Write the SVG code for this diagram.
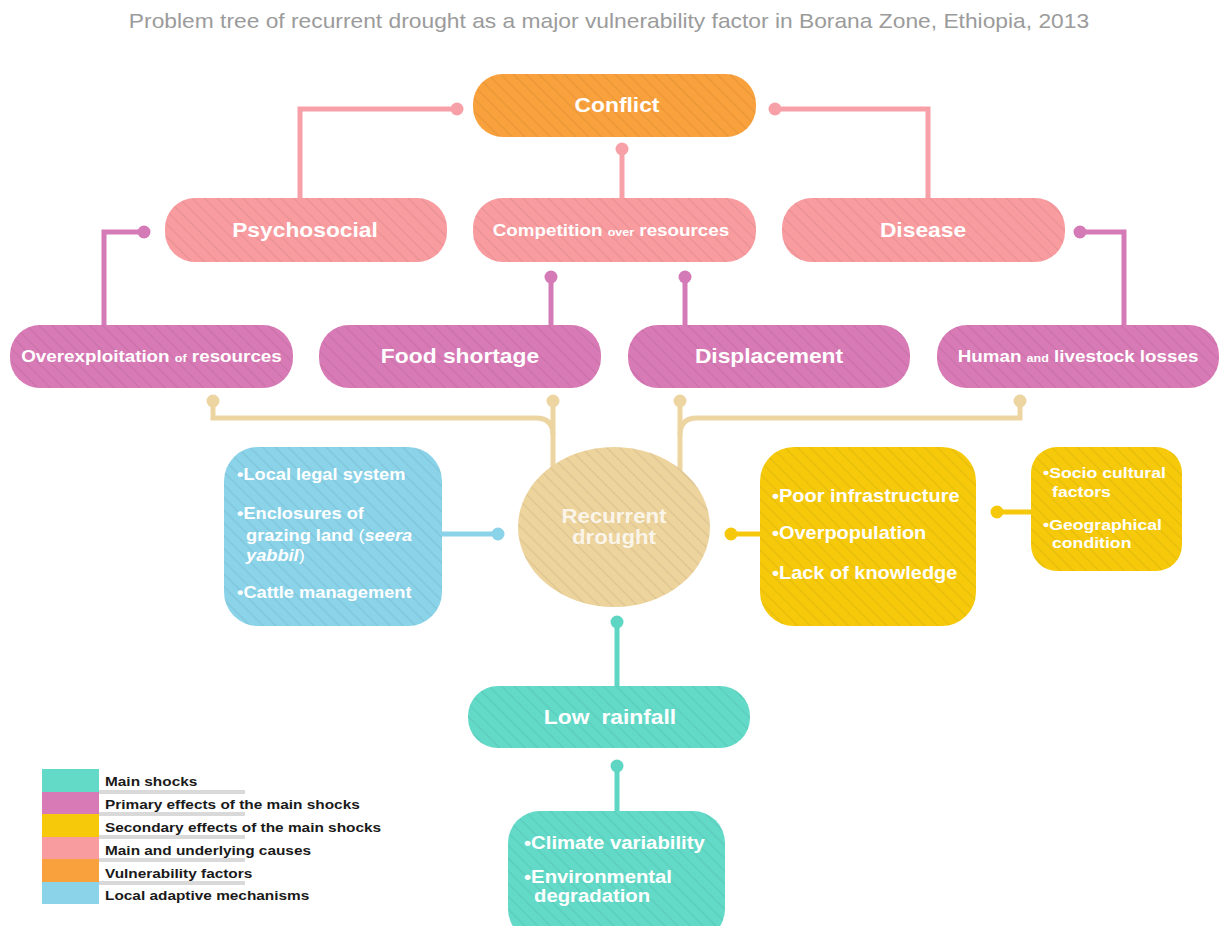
<svg xmlns="http://www.w3.org/2000/svg" width="1221" height="926" viewBox="0 0 1221 926">
<style>
.t{font-family:"Liberation Sans",Arial,sans-serif;font-weight:bold;fill:#fff}
.big{font-size:20px}
.mid{font-size:16.5px}
.sm{font-size:11px}
.it{font-style:italic}
.nb{font-weight:normal}
.title{font-family:"Liberation Sans",Arial,sans-serif;font-size:20px;fill:#9b9b9b}
.leg{font-family:"Liberation Sans",Arial,sans-serif;font-weight:bold;font-size:13.5px;fill:#1a1a1a}
.c{fill:none;stroke-width:5}
.cp{stroke:#F8A0A8}.fp{fill:#F8A0A8}
.cm{stroke:#D37AB7}.fm{fill:#D37AB7}
.ct{stroke:#EDD5A2}.ft{fill:#EDD5A2}
.cb{stroke:#8BD3E8}.fb{fill:#8BD3E8}
.cy{stroke:#F5C80C}.fy{fill:#F5C80C}
.cq{stroke:#5FD5C3}.fq{fill:#5FD5C3}
</style>
<defs>
<pattern id="hO" patternUnits="userSpaceOnUse" width="9" height="9" patternTransform="rotate(-45)"><rect width="9" height="9" fill="#F9A13C"/><line x1="4.5" y1="0" x2="4.5" y2="9" stroke="#000" stroke-opacity="0.07" stroke-width="1.2"/></pattern>
<pattern id="hP" patternUnits="userSpaceOnUse" width="9" height="9" patternTransform="rotate(-45)"><rect width="9" height="9" fill="#F99CA0"/><line x1="4.5" y1="0" x2="4.5" y2="9" stroke="#000" stroke-opacity="0.07" stroke-width="1.2"/></pattern>
<pattern id="hM" patternUnits="userSpaceOnUse" width="9" height="9" patternTransform="rotate(-45)"><rect width="9" height="9" fill="#D87AB5"/><line x1="4.5" y1="0" x2="4.5" y2="9" stroke="#000" stroke-opacity="0.07" stroke-width="1.2"/></pattern>
<pattern id="hT" patternUnits="userSpaceOnUse" width="9" height="9" patternTransform="rotate(-45)"><rect width="9" height="9" fill="#EDD39C"/><line x1="4.5" y1="0" x2="4.5" y2="9" stroke="#000" stroke-opacity="0.07" stroke-width="1.2"/></pattern>
<pattern id="hB" patternUnits="userSpaceOnUse" width="9" height="9" patternTransform="rotate(-45)"><rect width="9" height="9" fill="#8AD3E9"/><line x1="4.5" y1="0" x2="4.5" y2="9" stroke="#000" stroke-opacity="0.07" stroke-width="1.2"/></pattern>
<pattern id="hY" patternUnits="userSpaceOnUse" width="9" height="9" patternTransform="rotate(-45)"><rect width="9" height="9" fill="#F6CA0B"/><line x1="4.5" y1="0" x2="4.5" y2="9" stroke="#000" stroke-opacity="0.07" stroke-width="1.2"/></pattern>
<pattern id="hQ" patternUnits="userSpaceOnUse" width="9" height="9" patternTransform="rotate(-45)"><rect width="9" height="9" fill="#63DAC8"/><line x1="4.5" y1="0" x2="4.5" y2="9" stroke="#000" stroke-opacity="0.07" stroke-width="1.2"/></pattern>
</defs>
<rect width="1221" height="926" fill="#fff"/>
<text class="title" transform="translate(609 0) scale(1.14 1)" x="0" y="28" text-anchor="middle">Problem tree of recurrent drought as a major vulnerability factor in Borana Zone, Ethiopia, 2013</text>

<g id="connectors">
<path class="c cp" d="M457,109 H300 V200"/>
<path class="c cp" d="M775,109 H928 V200"/>
<path class="c cp" d="M622,149 V200"/>
<circle class="fp" cx="457" cy="109" r="6.5"/><circle class="fp" cx="775" cy="109" r="6.5"/><circle class="fp" cx="622" cy="149" r="6.5"/>
<path class="c cm" d="M144,232 H104 V327"/>
<path class="c cm" d="M551,277 V327"/>
<path class="c cm" d="M685,277 V327"/>
<path class="c cm" d="M1080,232 H1124 V327"/>
<circle class="fm" cx="144" cy="232" r="6.5"/><circle class="fm" cx="551" cy="277" r="6.5"/><circle class="fm" cx="685" cy="277" r="6.5"/><circle class="fm" cx="1080" cy="232" r="6.5"/>
<path class="c ct" d="M213,401 V418 H536 Q553,418 553,435 V472"/>
<path class="c ct" d="M553,401 V435"/>
<path class="c ct" d="M680,401 V472"/>
<path class="c ct" d="M680,435 Q680,418 697,418 H1020 V401"/>
<circle class="ft" cx="213" cy="401" r="6.5"/><circle class="ft" cx="553" cy="401" r="6.5"/><circle class="ft" cx="680" cy="401" r="6.5"/><circle class="ft" cx="1020" cy="401" r="6.5"/>
<path class="c cb" d="M440,534 H498"/><circle class="fb" cx="498" cy="534" r="6.5"/>
<path class="c cy" d="M731,534 H762"/><circle class="fy" cx="731" cy="534" r="6.5"/>
<path class="c cy" d="M997,512 H1033"/><circle class="fy" cx="997" cy="512" r="6.5"/>
<path class="c cq" d="M617,622 V688"/><circle class="fq" cx="617" cy="622" r="6.5"/>
<path class="c cq" d="M617,766 V813"/><circle class="fq" cx="617" cy="766" r="6.5"/>
</g>

<g id="conflict">
<rect x="473" y="74" width="283" height="63" rx="30" fill="url(#hO)"/>
<text class="t big" transform="translate(617 0) scale(1.14 1)" x="0" y="112.5" text-anchor="middle">Conflict</text>
</g>
<g id="psychosocial">
<rect x="165" y="198" width="282" height="64" rx="30" fill="url(#hP)"/>
<text class="t big" transform="translate(305 0) scale(1.14 1)" x="0" y="237" text-anchor="middle">Psychosocial</text>
</g>
<g id="competition">
<rect x="473" y="198" width="283" height="64" rx="30" fill="url(#hP)"/>
<text class="t mid" transform="translate(611 0) scale(1.14 1)" x="0" y="236" text-anchor="middle">Competition <tspan class="sm">over</tspan> resources</text>
</g>
<g id="disease">
<rect x="782" y="198" width="283" height="64" rx="30" fill="url(#hP)"/>
<text class="t big" transform="translate(923 0) scale(1.14 1)" x="0" y="237" text-anchor="middle">Disease</text>
</g>

<g id="overexploitation">
<rect x="10" y="325" width="283" height="63" rx="30" fill="url(#hM)"/>
<text class="t mid" transform="translate(151.5 0) scale(1.14 1)" x="0" y="362" text-anchor="middle">Overexploitation <tspan class="sm">of</tspan> resources</text>
</g>
<g id="food-shortage">
<rect x="319" y="325" width="282" height="63" rx="30" fill="url(#hM)"/>
<text class="t big" transform="translate(460 0) scale(1.14 1)" x="0" y="363" text-anchor="middle">Food shortage</text>
</g>
<g id="displacement">
<rect x="628" y="325" width="282" height="63" rx="30" fill="url(#hM)"/>
<text class="t big" transform="translate(769 0) scale(1.14 1)" x="0" y="363" text-anchor="middle">Displacement</text>
</g>
<g id="human-livestock">
<rect x="937" y="325" width="282" height="63" rx="30" fill="url(#hM)"/>
<text class="t mid" transform="translate(1078 0) scale(1.14 1)" x="0" y="362" text-anchor="middle">Human <tspan class="sm">and</tspan> livestock losses</text>
</g>

<g id="local-adaptive">
<rect x="224" y="447" width="218" height="179" rx="34" fill="url(#hB)"/>
<g class="t" style="font-size:16px">
<text transform="translate(237 0) scale(1.14 1)" x="0" y="480">•Local legal system</text>
<text transform="translate(237 0) scale(1.14 1)" x="0" y="519">•Enclosures of</text>
<text transform="translate(246 0) scale(1.14 1)" x="0" y="541">grazing land <tspan class="nb">(</tspan><tspan class="it">seera</tspan></text>
<text transform="translate(246 0) scale(1.14 1)" x="0" y="561"><tspan class="it">yabbil</tspan><tspan class="nb">)</tspan></text>
<text transform="translate(237 0) scale(1.14 1)" x="0" y="598">•Cattle management</text>
</g>
</g>

<g id="recurrent-drought">
<ellipse cx="614" cy="527" rx="96" ry="80" fill="url(#hT)"/>
<g class="t" style="font-size:19.5px;fill-opacity:0.8">
<text transform="translate(614 0) scale(1.14 1)" x="0" y="523" text-anchor="middle">Recurrent</text>
<text transform="translate(614 0) scale(1.14 1)" x="0" y="544" text-anchor="middle">drought</text>
</g>
</g>

<g id="secondary-effects">
<rect x="760" y="447" width="216" height="179" rx="34" fill="url(#hY)"/>
<g class="t" style="font-size:17.5px">
<text transform="translate(772 0) scale(1.14 1)" x="0" y="502">•Poor infrastructure</text>
<text transform="translate(772 0) scale(1.14 1)" x="0" y="539">•Overpopulation</text>
<text transform="translate(772 0) scale(1.14 1)" x="0" y="579">•Lack of knowledge</text>
</g>
</g>

<g id="socio-geo">
<rect x="1031" y="447" width="151" height="124" rx="26" fill="url(#hY)"/>
<g class="t" style="font-size:15.5px">
<text transform="translate(1043 0) scale(1.14 1)" x="0" y="478">•Socio cultural</text>
<text transform="translate(1052 0) scale(1.14 1)" x="0" y="497">factors</text>
<text transform="translate(1043 0) scale(1.14 1)" x="0" y="530">•Geographical</text>
<text transform="translate(1052 0) scale(1.14 1)" x="0" y="548">condition</text>
</g>
</g>

<g id="low-rainfall">
<rect x="468" y="686" width="282" height="62" rx="30" fill="url(#hQ)"/>
<text class="t big" transform="translate(610 0) scale(1.14 1)" x="0" y="724" text-anchor="middle">Low <tspan dx="5">rainfall</tspan></text>
</g>

<g id="climate-env">
<rect x="508" y="811" width="217" height="130" rx="32" fill="url(#hQ)"/>
<g class="t" style="font-size:17.5px">
<text transform="translate(524 0) scale(1.16 1)" x="0" y="849">•Climate variability</text>
<text transform="translate(524 0) scale(1.16 1)" x="0" y="883">•Environmental</text>
<text transform="translate(534 0) scale(1.16 1)" x="0" y="902">degradation</text>
</g>
</g>

<g id="legend">
<rect x="42" y="769" width="57" height="23" fill="#63DAC8"/>
<rect x="42" y="792" width="57" height="22" fill="#D87AB5"/>
<rect x="42" y="814" width="57" height="23" fill="#F6CA0B"/>
<rect x="42" y="837" width="57" height="22" fill="#F99CA0"/>
<rect x="42" y="859" width="57" height="23" fill="#F9A13C"/>
<rect x="42" y="882" width="57" height="22" fill="#8AD3E9"/>
<g fill="#d9d9d9">
<rect x="99" y="790" width="146" height="4"/>
<rect x="99" y="812" width="146" height="4"/>
<rect x="99" y="835" width="146" height="4"/>
<rect x="99" y="858" width="146" height="4"/>
<rect x="99" y="881" width="146" height="4"/>
</g>
<text class="leg" transform="translate(105 0) scale(1.14 1)" x="0" y="786">Main shocks</text>
<text class="leg" transform="translate(105 0) scale(1.14 1)" x="0" y="809">Primary effects of the main shocks</text>
<text class="leg" transform="translate(105 0) scale(1.14 1)" x="0" y="832">Secondary effects of the main shocks</text>
<text class="leg" transform="translate(105 0) scale(1.14 1)" x="0" y="855">Main and underlying causes</text>
<text class="leg" transform="translate(105 0) scale(1.14 1)" x="0" y="878">Vulnerability factors</text>
<text class="leg" transform="translate(105 0) scale(1.14 1)" x="0" y="900">Local adaptive mechanisms</text>
</g>
</svg>
